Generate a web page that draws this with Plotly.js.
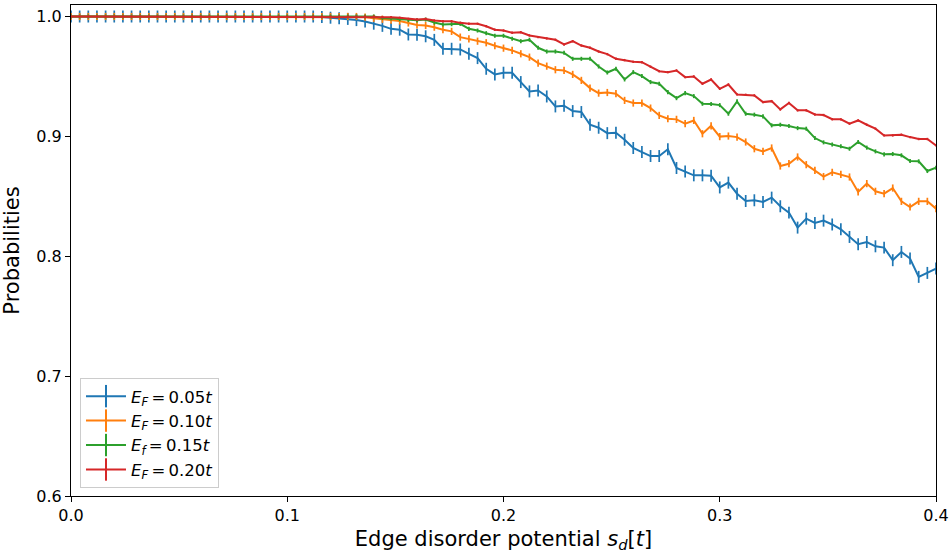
<!DOCTYPE html>
<html>
<head>
<meta charset="utf-8">
<script src="https://cdn.plot.ly/plotly-3.0.1.min.js"></script>
<style>html,body{margin:0;padding:0;background:#fff;}#chart{width:950px;height:553px;}</style>
</head>
<body>
<div id="chart"></div>
<script>
// x positions: 0 to 0.4 in steps of 0.004 (101 points)
const sdValues = [];
for (let i = 0; i <= 100; i++) sdValues.push(+(i * 0.004).toFixed(3));

const pEF005 = [
  1,1,1,1,1,1,1,1,1,1, 1,1,1,1,1,1,1,1,1,1, 1,1,1,1,1,1,1,1,1,0.9995,
  0.999,0.9985,0.998,0.997,0.9958,0.994,0.9922,0.9897,0.989,0.985,
  0.9847,0.9835,0.9805,0.9731,0.9731,0.9725,0.9689,0.9653,0.9564,0.9517,
  0.9531,0.9531,0.9453,0.9375,0.9383,0.9333,0.925,0.9256,0.9211,0.9203,
  0.9097,0.9072,0.9027,0.9031,0.8972,0.8903,0.8869,0.8836,0.8836,0.8892,
  0.8736,0.8708,0.8675,0.8675,0.8672,0.8574,0.8614,0.8522,0.8461,0.8467,
  0.8453,0.8489,0.8417,0.8364,0.8239,0.8314,0.8278,0.8297,0.8265,0.8225,
  0.8161,0.810,0.8119,0.8083,0.8072,0.7967,0.8036,0.7981,0.7828,0.7861,
  0.7897
];
const pEF010 = [
  1,1,1,1,1,1,1,1,1,1, 1,1,1,1,1,1,1,1,1,1, 1,1,1,1,1,1,1,1,1,1,
  1,1,1,1,0.9995,0.9985,0.9977,0.997,0.9962,0.9946,
  0.993,0.9925,0.9911,0.989,0.9876,0.9828,0.9814,0.9794,0.9781,0.9756,
  0.9736,0.9717,0.9689,0.9661,0.9611,0.9586,0.9556,0.955,0.9517,0.9467,
  0.9403,0.9361,0.9366,0.9356,0.930,0.9278,0.9278,0.9236,0.9175,0.9147,
  0.9142,0.9106,0.9133,0.9022,0.9088,0.8998,0.9003,0.8994,0.8953,0.8897,
  0.8875,0.8903,0.8753,0.8772,0.8828,0.8764,0.8717,0.8665,0.870,0.8683,
  0.8661,0.8536,0.8606,0.8542,0.8522,0.8569,0.8458,0.8411,0.8458,0.8458,
  0.8397
];
const pEF015 = [
  1,1,1,1,1,1,1,1,1,1, 1,1,1,1,1,1,1,1,1,1, 1,1,1,1,1,1,1,1,1,1,
  1,1,1,1,1,1,0.9988,0.9983,0.9977,0.997,
  0.9968,0.9975,0.995,0.9933,0.9936,0.9939,0.9897,0.9883,0.9861,0.9839,
  0.9839,0.9814,0.9794,0.9806,0.9739,0.9708,0.9708,0.9697,0.9647,0.9647,
  0.9647,0.9583,0.9533,0.9564,0.9475,0.9536,0.9503,0.9453,0.9439,0.9369,
  0.9319,0.9361,0.9336,0.9272,0.927,0.9261,0.9189,0.9292,0.9189,0.9181,
  0.9167,0.9092,0.9097,0.9086,0.9069,0.9064,0.8986,0.895,0.8932,0.8917,
  0.8897,0.8953,0.8906,0.8875,0.885,0.8853,0.8842,0.8794,0.8792,0.8711,
  0.8739
];
const pEF020 = [
  1,1,1,1,1,1,1,1,1,1, 1,1,1,1,1,1,1,1,1,1, 1,1,1,1,1,1,1,1,1,1,
  1,1,1,1,1,1,0.9995,0.9994,0.9989,0.998,
  0.9975,0.998,0.9967,0.9961,0.9961,0.9947,0.9939,0.9939,0.9919,0.989,
  0.9883,0.9864,0.9869,0.9842,0.9828,0.9817,0.9806,0.9767,0.9794,0.9758,
  0.9739,0.9708,0.9686,0.9647,0.9636,0.9622,0.9619,0.9581,0.9544,0.9536,
  0.955,0.9494,0.950,0.9439,0.9474,0.9397,0.9433,0.935,0.9347,0.9342,
  0.9286,0.9294,0.9225,0.9278,0.9217,0.9217,0.9183,0.9178,0.9143,0.9142,
  0.9106,0.9133,0.9097,0.9064,0.9008,0.9008,0.9014,0.8994,0.8978,0.8978,
  0.8925
];

const seriesNames = [
  '<i>E</i><sub><i>F</i></sub>\u2009=\u20090.05<i>t</i>',
  '<i>E</i><sub><i>F</i></sub>\u2009=\u20090.10<i>t</i>',
  '<i>E</i><sub><i>f</i></sub>\u2009=\u20090.15<i>t</i>',
  '<i>E</i><sub><i>F</i></sub>\u2009=\u20090.20<i>t</i>'
];
const errorSizes = [0.005, 0.003, 0.0017, 0.001];
const seriesValues = [pEF005, pEF010, pEF015, pEF020];
const colors = ['#1f77b4', '#ff7f0e', '#2ca02c', '#d62728'];

const traces = [];
seriesValues.forEach((vals, k) => {
  traces.push({
    x: sdValues, y: vals, type: 'scatter', mode: 'lines',
    line: {color: colors[k], width: 2},
    error_y: {type: 'data', array: vals.map(() => errorSizes[k]), visible: true,
              color: colors[k], thickness: 1.7, width: 0},
    showlegend: false, legendgroup: 'g' + k, hoverinfo: 'x+y'
  });
});
// legend entries (line with vertical error-bar glyph)
seriesValues.forEach((vals, k) => {
  traces.push({
    x: [null], y: [null], type: 'scatter', mode: 'lines+markers',
    name: seriesNames[k], legendgroup: 'g' + k,
    line: {color: colors[k], width: 2},
    marker: {symbol: 'line-ns-open', size: 17, color: colors[k], line: {color: colors[k], width: 2}}
  });
});

const layout = {
  width: 950, height: 553,
  margin: {l: 71, r: 14, t: 5, b: 57},
  paper_bgcolor: '#fff', plot_bgcolor: '#fff',
  font: {family: 'DejaVu Sans', color: '#000', size: 16},
  xaxis: {
    range: [0, 0.4], tickvals: [0, 0.1, 0.2, 0.3, 0.4], ticktext: ['0.0','0.1','0.2','0.3','0.4'],
    showgrid: false, zeroline: false, showline: true, linecolor: '#000', linewidth: 1, mirror: true,
    ticks: 'outside', ticklen: 5, tickcolor: '#000', tickfont: {size: 16},
    title: {text: 'Edge disorder potential <i>s</i><sub><i>d</i></sub>[<i>t</i>]', font: {size: 21}, standoff: 8}
  },
  yaxis: {
    range: [0.6, 1.0096], tickvals: [0.6, 0.7, 0.8, 0.9, 1.0], ticktext: ['0.6','0.7','0.8','0.9','1.0'],
    showgrid: false, zeroline: false, showline: true, linecolor: '#000', linewidth: 1, mirror: true,
    ticks: 'outside', ticklen: 5, tickcolor: '#000', tickfont: {size: 16},
    title: {text: 'Probabilities', font: {size: 21}, standoff: 10}
  },
  legend: {
    x: 0.0104, y: 0.2405, xanchor: 'left', yanchor: 'top',
    bgcolor: 'rgba(255,255,255,0.8)', bordercolor: '#cccccc', borderwidth: 1,
    font: {size: 16.5}, tracegroupgap: 0, itemwidth: 40
  }
};

Plotly.newPlot('chart', traces, layout, {displayModeBar: false, staticPlot: true});
</script>
</body>
</html>
